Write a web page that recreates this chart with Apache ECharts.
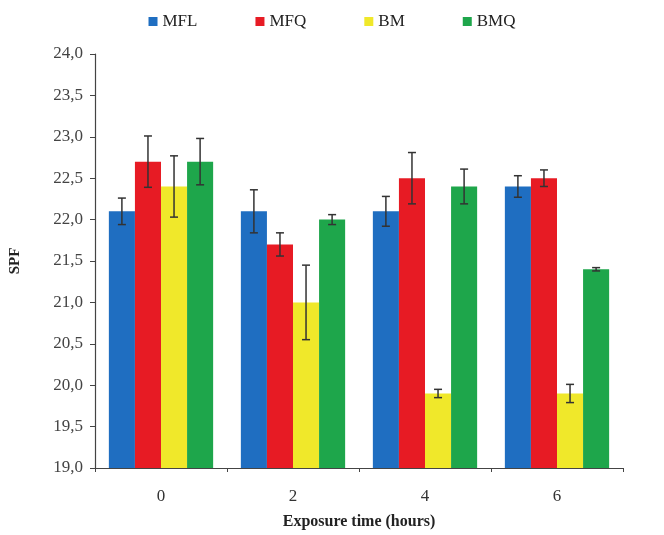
<!DOCTYPE html>
<html>
<head>
<meta charset="utf-8">
<script src="https://cdn.jsdelivr.net/npm/echarts@6/dist/echarts.min.js"></script>
<style>
  html, body { margin: 0; padding: 0; background: #fff; }
  #chart { width: 664px; height: 535px; }
</style>
</head>
<body>
<div id="chart"></div>
<script>
  // categories (exposure time, hours)
  var hours = ['0', '2', '4', '6'];
  var seriesNames = ['MFL', 'MFQ', 'BM', 'BMQ'];
  var colors = ['#1F6EC1', '#E71B24', '#F0E82A', '#1EA64B'];

  // SPF means
  var mfl = [22.1, 22.1, 22.1, 22.4];
  var mfq = [22.7, 21.7, 22.5, 22.5];
  var bm = [22.4, 21.0, 19.9, 19.9];
  var bmq = [22.7, 22.0, 22.4, 21.4];

  // error (± sd)
  var mflErr = [0.16, 0.26, 0.18, 0.13];
  var mfqErr = [0.31, 0.14, 0.31, 0.1];
  var bmErr = [0.37, 0.45, 0.05, 0.11];
  var bmqErr = [0.28, 0.06, 0.21, 0.02];

  var means = [mfl, mfq, bm, bmq];
  var errs = [mflErr, mfqErr, bmErr, bmqErr];

  var catGap = 0.21;
  var serif = '"Liberation Serif", "DejaVu Serif", serif';

  function errRender(idx) {
    return function (params, api) {
      var c = api.value(0);
      var lo = api.coord([c, api.value(1)]);
      var hi = api.coord([c, api.value(2)]);
      var band = api.size([1, 0])[0];
      var bw = band * (1 - catGap) / 4;
      var x = lo[0] + (idx - 1.5) * bw;
      var cap = 4;
      var st = { stroke: '#333', lineWidth: 1.5 };
      return {
        type: 'group',
        children: [
          { type: 'line', shape: { x1: x, y1: hi[1], x2: x, y2: lo[1] }, style: st },
          { type: 'line', shape: { x1: x - cap, y1: hi[1], x2: x + cap, y2: hi[1] }, style: st },
          { type: 'line', shape: { x1: x - cap, y1: lo[1], x2: x + cap, y2: lo[1] }, style: st }
        ]
      };
    };
  }

  var series = [];
  seriesNames.forEach(function (name, i) {
    series.push({
      name: name,
      type: 'bar',
      data: means[i],
      barGap: '0%',
      barCategoryGap: (catGap * 100) + '%',
      itemStyle: { color: colors[i] }
    });
  });
  seriesNames.forEach(function (name, i) {
    series.push({
      type: 'custom',
      name: name + ' err',
      renderItem: errRender(i),
      encode: { x: 0, y: [1, 2] },
      z: 10,
      data: means[i].map(function (v, j) {
        return [j, v - errs[i][j], v + errs[i][j]];
      })
    });
  });

  var chart = echarts.init(document.getElementById('chart'));
  chart.setOption({
    animation: false,
    color: colors,
    legend: {
      data: seriesNames,
      top: 8,
      left: 'center',
      icon: 'rect',
      itemWidth: 9,
      itemHeight: 9,
      itemGap: 58,
      textStyle: { fontFamily: serif, fontSize: 17, color: '#222' }
    },
    grid: { left: 95, right: 41, top: 54, bottom: 66 },
    xAxis: {
      type: 'category',
      data: hours,
      name: 'Exposure time (hours)',
      nameLocation: 'middle',
      nameGap: 46,
      nameTextStyle: { fontFamily: serif, fontSize: 16, fontWeight: 'bold', color: '#222' },
      axisLine: { lineStyle: { color: '#444', width: 1.2 } },
      axisTick: { show: true, inside: false, length: 4, lineStyle: { color: '#444' } },
      axisLabel: { fontFamily: serif, fontSize: 17, color: '#333', margin: 20 }
    },
    yAxis: {
      type: 'value',
      min: 19,
      max: 24,
      interval: 0.5,
      name: 'SPF',
      nameLocation: 'middle',
      nameGap: 72,
      nameTextStyle: { fontFamily: serif, fontSize: 15, fontWeight: 'bold', color: '#222' },
      axisLine: { show: true, lineStyle: { color: '#444', width: 1.2 } },
      axisTick: { show: true, length: 5, lineStyle: { color: '#444' } },
      splitLine: { show: false },
      axisLabel: {
        fontFamily: serif,
        fontSize: 17,
        color: '#444',
        margin: 12,
        formatter: function (v) { return v.toFixed(1).replace('.', ','); }
      }
    },
    series: series
  });
</script>
</body>
</html>
